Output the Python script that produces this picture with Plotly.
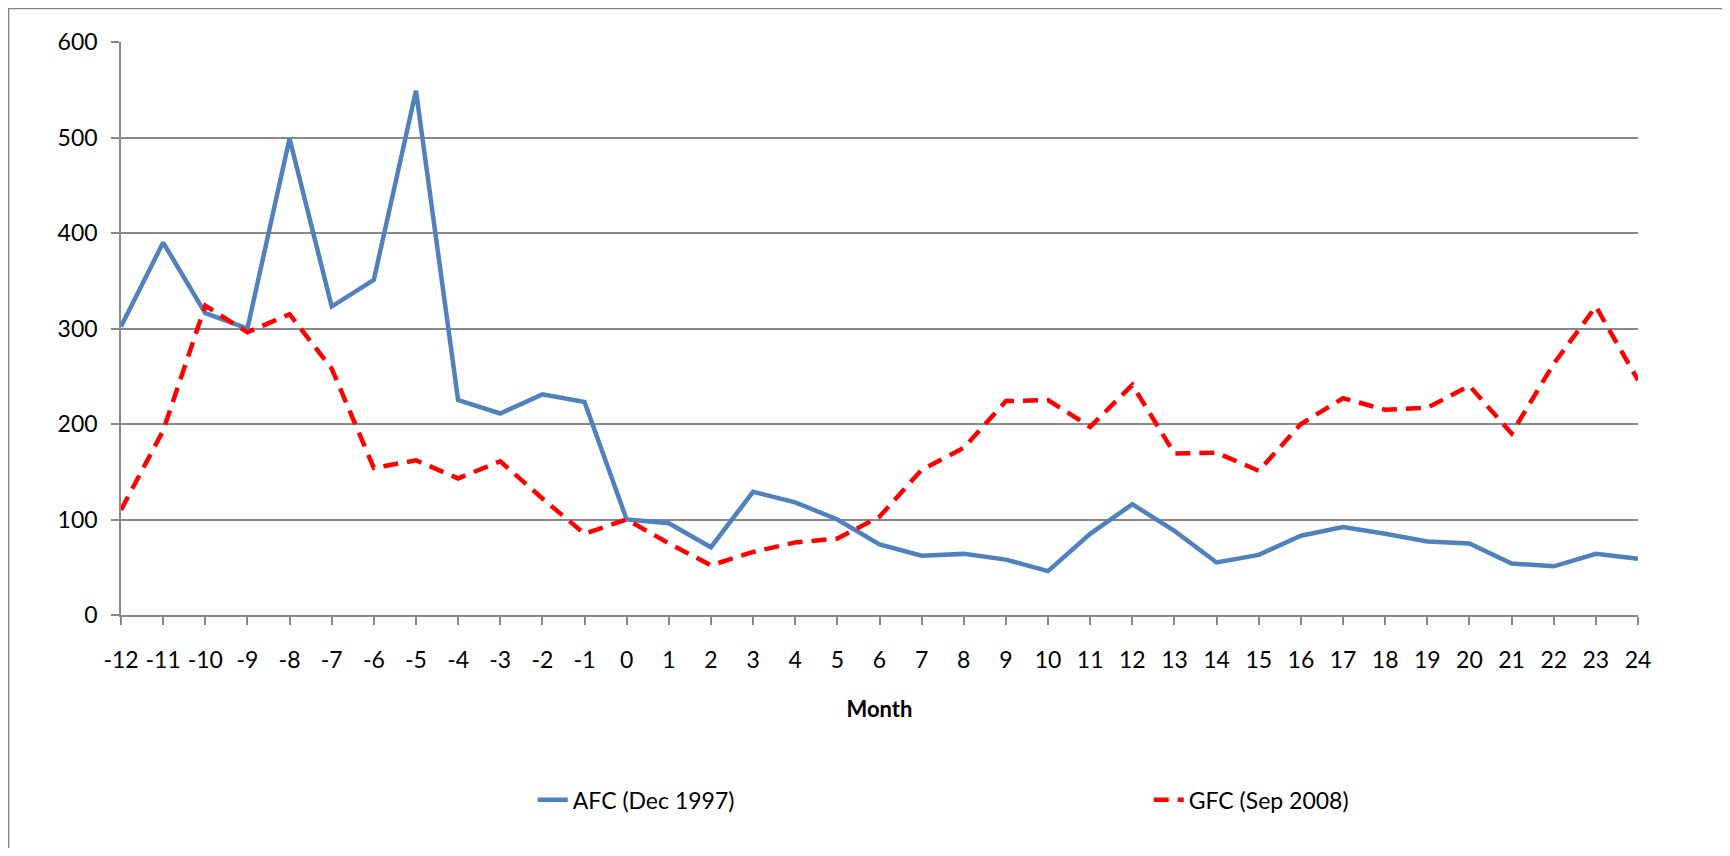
import plotly.graph_objects as go

# months relative to crisis start
months = list(range(-12, 25))
month_labels = [str(m) for m in months]

# AFC (Dec 1997) index
afc = [302, 390, 316, 300, 499, 323, 351, 549, 225, 211, 231, 223,
       100, 96, 71, 129, 118, 100, 74, 62, 64, 58, 46, 85, 116, 88,
       55, 63, 83, 92, 85, 77, 75, 54, 51, 64, 59]

# GFC (Sep 2008) index
gfc = [110, 193, 324, 296, 315, 258, 154, 162, 143, 161, 122, 85,
       100, 75, 52, 66, 76, 80, 103, 152, 175, 224, 225, 197, 241, 169,
       170, 151, 200, 227, 215, 217, 240, 190, 263, 323, 246]

FONT = "Lato, 'Open Sans', sans-serif"
GRID = "#898989"
FS = 23

fig = go.Figure()
fig.add_trace(go.Scatter(x=months, y=afc, mode="lines", name="AFC (Dec 1997)",
                         line=dict(color="#4F81BD", width=4.5)))
fig.add_trace(go.Scatter(x=months, y=gfc, mode="lines", name="GFC (Sep 2008)",
                         line=dict(color="#FF0000", width=4.5, dash="15px,9px")))

# outer chart border (only left/top visible in the original crop)
fig.add_shape(type="rect", xref="paper", yref="paper",
              x0=-0.0741, x1=1.1, y0=-0.5, y1=1.0585,
              line=dict(color="#868686", width=1.5), layer="below")

fig.update_xaxes(range=[-12, 24], tickmode="array", tickvals=months,
                 ticktext=month_labels,
                 showgrid=False, zeroline=False,
                 showline=True, linecolor=GRID, linewidth=1.5,
                 ticks="outside", ticklen=8, tickcolor=GRID, tickwidth=1.5,
                 ticklabelstandoff=16,
                 tickfont=dict(family=FONT, size=FS, color="black"),
                 title=dict(text="<b>Month</b>", standoff=29,
                            font=dict(family=FONT, size=FS - 1, color="black")))
fig.update_yaxes(range=[0, 600], dtick=100, showgrid=True, gridcolor=GRID,
                 gridwidth=1.5, zeroline=False,
                 showline=True, linecolor=GRID, linewidth=1.5,
                 ticks="outside", ticklen=8, tickcolor=GRID, tickwidth=1.5,
                 ticklabelstandoff=9,
                 tickfont=dict(family=FONT, size=FS, color="black"))

fig.update_layout(
    width=1714, height=840,
    margin=dict(l=113, r=84, t=34, b=233, autoexpand=False),
    plot_bgcolor="white", paper_bgcolor="white",
    font=dict(family=FONT, size=FS, color="black"),
    legend=dict(orientation="h", x=0.2714, xanchor="left", y=-0.3224, yanchor="middle",
                entrywidth=571, entrywidthmode="pixels",
                font=dict(family=FONT, size=FS, color="black")),
)

fig.write_html("out.html")
